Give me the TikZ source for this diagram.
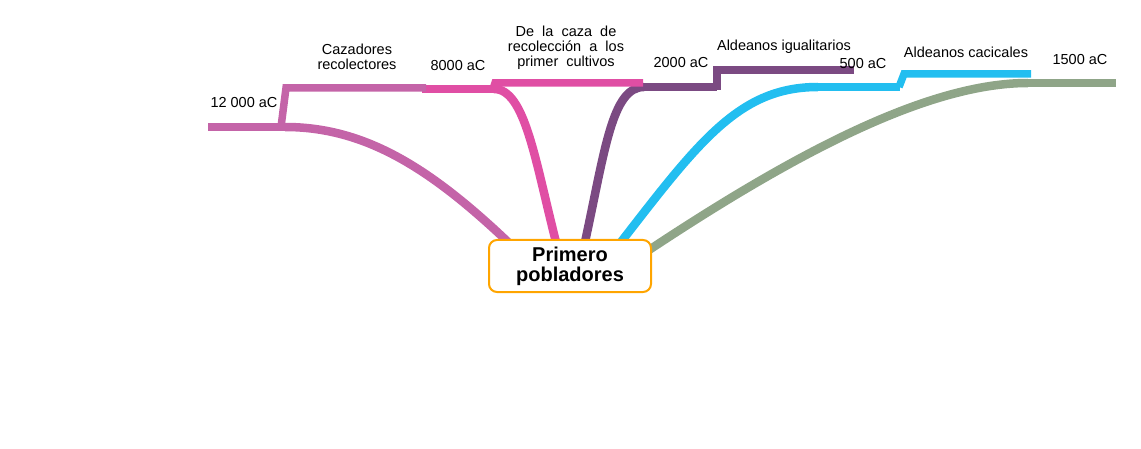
\documentclass[tikz,border=0pt]{standalone}
\usepackage{fontspec}
\setmainfont{Liberation Sans}
\usetikzlibrary{positioning, calc}

\definecolor{cmauve}{RGB}{196,100,168}
\definecolor{cpink}{RGB}{224,78,164}
\definecolor{cpurple}{RGB}{123,74,130}
\definecolor{ccyan}{RGB}{34,190,240}
\definecolor{csage}{RGB}{143,165,136}
\definecolor{corange}{RGB}{255,165,0}

\begin{document}
\begin{tikzpicture}[
  x=1pt, y=-1pt,
  branch/.style = {line width=8.5pt},
  twig/.style   = {line width=7.5pt},
  lbl/.style    = {font=\fontsize{14.5}{15}\selectfont, align=center, inner sep=0pt},
  topic/.style  = {draw=corange, line width=2pt, rounded corners=8pt, fill=white,
                   minimum width=162pt, minimum height=52pt, align=center,
                   font=\fontsize{20}{20}\selectfont\bfseries},
]
  \useasboundingbox (0,0) rectangle (1141,449);

  % start points on the central topic
  \coordinate (s1) at (508,242);
  \coordinate (s2) at (556,242);
  \coordinate (s3) at (585,242);
  \coordinate (s4) at (621,242);
  \coordinate (s5) at (649,250);

  % ends of the dated lines
  \coordinate (d1a) at (208,127);  \coordinate (d1b) at (285,127);
  \coordinate (d2a) at (422,89);   \coordinate (d2b) at (494,89);
  \coordinate (d3a) at (644,87);   \coordinate (d3b) at (717,87);
  \coordinate (d4a) at (818,87);   \coordinate (d4b) at (900,87);
  \coordinate (d5a) at (1028,83);  \coordinate (d5b) at (1116,83);

  % ends of the period lines
  \coordinate (p1a) at (281,127);  \coordinate (p1t) at (286,88);  \coordinate (p1b) at (426,88);
  \coordinate (p2a) at (493,89);   \coordinate (p2t) at (495,83);  \coordinate (p2b) at (643,83);
  \coordinate (p3a) at (717,90);   \coordinate (p3t) at (717,70);  \coordinate (p3b) at (854,70);
  \coordinate (p4a) at (899,87);   \coordinate (p4t) at (904,74);  \coordinate (p4b) at (1031,74);

  % curves into the dates
  \draw[branch, cmauve]  (s1) .. controls (430,168) and (365,127) .. (d1b);
  \draw[branch, cpink]   (s2) .. controls (535,160) and (525,89)  .. (d2b);
  \draw[branch, cpurple] (s3) .. controls (605,150) and (612,87)  .. (d3a);
  \draw[branch, ccyan]   (s4) .. controls (700,140) and (740,87)  .. (d4a);
  \draw[branch, csage]   (s5) .. controls (800,150) and (930,83)  .. (d5a);

  % date lines
  \draw[branch, cmauve]  (d1a) -- (d1b);
  \draw[branch, cpink]   (d2a) -- (d2b);
  \draw[branch, cpurple] (d3a) -- (d3b);
  \draw[branch, ccyan]   (d4a) -- (d4b);
  \draw[branch, csage]   (d5a) -- (d5b);

  % period lines, stepped off the dates
  \draw[twig, cmauve]  (p1a) -- (p1t) -- (p1b);
  \draw[twig, cpink]   (p2a) -- (p2t) -- (p2b);
  \draw[twig, cpurple] (p3a) -- (p3t) -- (p3b);
  \draw[twig, ccyan]   (p4a) .. controls (902,80) .. (p4t) -- (p4b);

  \node[topic] (pob) at (570,266) {Primero\\pobladores};

  % labels
  \node[lbl] (l12000) at (244,103) {12 000 aC};
  \node[lbl] (lcaz)   at (357,57)  {Cazadores\\recolectores};
  \node[lbl] (l8000)  at (458,66)  {8000 aC};
  \node[lbl] (lcult)  at (566,48)  {De \ la \ caza \ de\\recolección \ a \ los\\primer \ cultivos};
  \node[lbl] (l2000)  at (681,63)  {2000 aC};
  \node[lbl] (ligual) at (784,47)  {Aldeanos igualitarios};
  \node[lbl] (l500)   at (863,64)  {500 aC};
  \node[lbl] (lcaci)  at (966,52)  {Aldeanos cacicales};
  \node[lbl] (l1500)  at (1080,60) {1500 aC};
\end{tikzpicture}
\end{document}
